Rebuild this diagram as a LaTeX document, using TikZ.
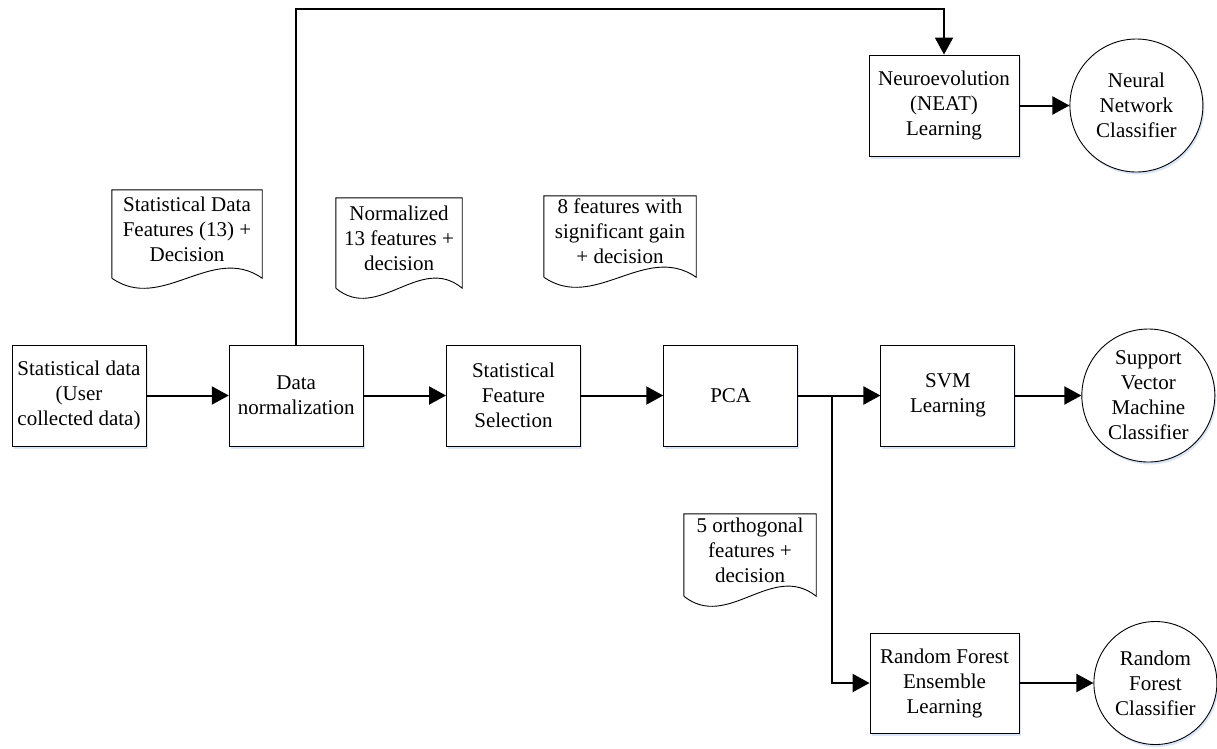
\documentclass[tikz,border=0pt]{standalone}
\usepackage{fontspec}
\setmainfont{Liberation Serif}
\usepackage{tikz}
\usetikzlibrary{arrows.meta,positioning,calc,shadows}
\definecolor{glowblue}{rgb}{0.84,0.89,0.97}

% outline of a document shape round a node (wavy foot 10pt below the node)
\newcommand{\docframe}[1]{%
  \draw[line width=0.9pt] ($(#1.south west)+(0,10)$) -- (#1.north west) -- (#1.north east)
    -- ($(#1.south east)+(0,10)$)
    .. controls ($(#1.south east)!0.333!(#1.south west)+(0,-25)$)
    and ($(#1.south east)!0.667!(#1.south west)+(0,45)$) .. ($(#1.south west)+(0,10)$);}

\begin{document}
\begin{tikzpicture}[x=1pt,y=-1pt,node distance=82.33pt,
    every node/.style={font=\fontsize{21}{25}\selectfont},
    stage/.style={draw,line width=0.9pt,fill=white,minimum width=134pt,minimum height=101pt,
                  align=center,drop shadow={shadow xshift=1.5pt,shadow yshift=-2.5pt,fill=glowblue,opacity=0.9}},
    clf/.style={draw,circle,line width=0.9pt,fill=white,minimum size=133pt,inner sep=0pt,
                align=center,drop shadow={shadow xshift=1.5pt,shadow yshift=-2.5pt,fill=glowblue,opacity=0.9}},
    doc/.style={inner sep=0pt,align=center},
    flow/.style={-{Triangle[length=17pt,width=18pt]},line width=2pt}]
  \useasboundingbox (0,0) rectangle (1217,748);

  % main row
  \node[stage] (data) at (79,395.5) {Statistical data\\(User\\collected data)};
  \node[stage,right=of data] (norm) {Data\\normalization};
  \node[stage,right=of norm] (sel)  {Statistical\\Feature\\Selection};
  \node[stage,right=of sel]  (pca)  {PCA};
  \node[stage,right=of pca]  (svm)  {SVM\\Learning};
  \node[clf,right=66pt of svm] (svmc) {Support\\Vector\\Machine\\Classifier};

  % upper and lower branch
  \node[stage,minimum width=150pt] (neat) at (944,105.5) {Neuroevolution\\(NEAT)\\Learning};
  \node[clf,right=50pt of neat] (nnc) {Neural\\Network\\Classifier};
  \node[stage,minimum width=149pt,minimum height=100pt] (rf) at (944.5,683) {Random Forest\\Ensemble\\Learning};
  \node[clf,minimum size=123pt,right=74pt of rf] (rfc) {Random\\Forest\\Classifier};

  % data documents
  \node[doc,minimum width=150pt,minimum height=78pt] (d1) at (187,229) {Statistical Data\\Features (13) +\\Decision};
  \node[doc,minimum width=126pt,minimum height=80pt] (d2) at (399,238) {Normalized\\13 features +\\decision};
  \node[doc,minimum width=152pt,minimum height=71pt] (d3) at (620,231.5) {8 features with\\significant gain\\+ decision};
  \node[doc,minimum width=132pt,minimum height=72pt] (d4) at (750,550) {5 orthogonal\\features +\\decision};
  \docframe{d1}
  \docframe{d2}
  \docframe{d3}
  \docframe{d4}

  \coordinate (br) at ($(pca.east)!0.41!(svm.west)$);

  \draw[flow] (data) -- (norm);
  \draw[flow] (norm) -- (sel);
  \draw[flow] (sel)  -- (pca);
  \draw[flow] (pca)  -- (svm);
  \draw[flow] (svm)  -- (svmc);
  \draw[flow] (norm.north) -- ++(0,-336) -| (neat.north);
  \draw[flow] (neat) -- (nnc);
  \draw[flow] (br) |- (rf);
  \draw[flow] (rf)   -- (rfc);
\end{tikzpicture}
\end{document}
